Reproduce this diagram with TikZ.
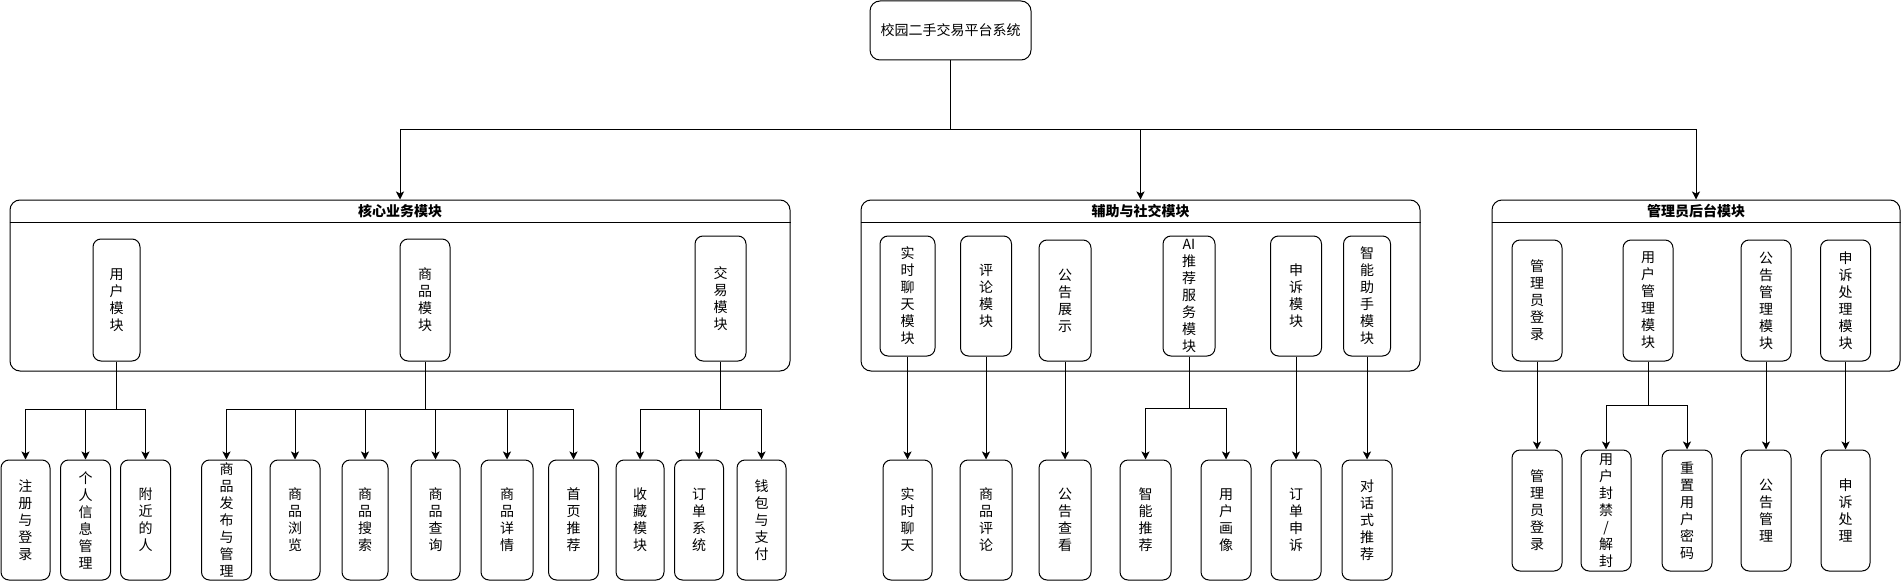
\documentclass[tikz,border=0pt]{standalone}
\usepackage{fontspec}
\newfontfamily\cjk{Noto Sans CJK SC}
\usetikzlibrary{arrows.meta}
\tikzset{
  box/.style={draw,rounded corners=6pt,inner sep=0pt,align=center,fill=white},
  grp/.style={draw,rounded corners=7.5pt,inner sep=0pt},
  hdr/.style={font=\cjk\bfseries\fontsize{10.5}{12.75}\selectfont,inner sep=0pt},
  arr/.style={-{Stealth[length=6pt,width=6pt,inset=1.5pt]}},
  leafh/.style={minimum height=90pt},
  modh/.style={minimum height=90pt}
}
\begin{document}
\begin{tikzpicture}[x=0.75pt,y=-0.75pt,line width=0.75pt,
  every node/.style={font=\cjk\fontsize{10.5}{12.75}\selectfont}]
\useasboundingbox (0,0) rectangle (1901,581);

% root
\node[box,minimum width=161*.75pt,minimum height=59*.75pt,rounded corners=7.5pt] (root) at (950.5,30.5) {校园二手交易平台系统};
\coordinate (trunk) at (950.5,130);

% groups
\node[grp,minimum width=780*.75pt,minimum height=171*.75pt] (g1) at (400,285.5) {};
\node[grp,minimum width=559*.75pt,minimum height=171*.75pt] (g2) at (1140.5,285.5) {};
\node[grp,minimum width=408*.75pt,minimum height=171*.75pt] (g3) at (1696,285.5) {};
\draw (g1.west |- 0,222) -- (g1.east |- 0,222);
\draw (g2.west |- 0,222) -- (g2.east |- 0,222);
\draw (g3.west |- 0,222) -- (g3.east |- 0,222);
\node[hdr] (g1t) at (400,211.5) {核心业务模块};
\node[hdr] (g2t) at (1140.5,211.5) {辅助与社交模块};
\node[hdr] (g3t) at (1696,211.5) {管理员后台模块};

\draw (root.south) -- (trunk);
\draw[arr] (trunk) -| (g1.north);
\draw[arr] (trunk) -| (g2.north);
\draw[arr] (trunk) -| (g3.north);

% group 1 modules
\node[box,minimum width=47*.75pt,minimum height=122*.75pt] (m1) at (116.5,300) {用\\户\\模\\块};
\node[box,minimum width=50*.75pt,minimum height=122*.75pt] (m2) at (425,300) {商\\品\\模\\块};
\node[box,minimum width=51*.75pt,minimum height=125*.75pt] (m3) at (720.5,298.5) {交\\易\\模\\块};

% group 1 leaves
\node[box,leafh,minimum width=49*.75pt] (l1) at (25.5,520) {注\\册\\与\\登\\录};
\node[box,leafh,minimum width=50*.75pt] (l2) at (85.5,520) {个\\人\\信\\息\\管\\理};
\node[box,leafh,minimum width=50*.75pt] (l3) at (145.5,520) {附\\近\\的\\人};
\node[box,leafh,minimum width=50*.75pt] (l4) at (226.5,520) {商\\品\\发\\布\\与\\管\\理};
\node[box,leafh,minimum width=50*.75pt] (l5) at (295,520) {商\\品\\浏\\览};
\node[box,leafh,minimum width=46*.75pt] (l6) at (365,520) {商\\品\\搜\\索};
\node[box,leafh,minimum width=49*.75pt] (l7) at (435.5,520) {商\\品\\查\\询};
\node[box,leafh,minimum width=52*.75pt] (l8) at (507,520) {商\\品\\详\\情};
\node[box,leafh,minimum width=50*.75pt] (l9) at (573.5,520) {首\\页\\推\\荐};
\node[box,leafh,minimum width=48*.75pt] (l10) at (640,520) {收\\藏\\模\\块};
\node[box,leafh,minimum width=49*.75pt] (l11) at (699,520) {订\\单\\系\\统};
\node[box,leafh,minimum width=49*.75pt] (l12) at (761.5,520) {钱\\包\\与\\支\\付};

\coordinate (j1) at (116.5,409);
\coordinate (j2) at (425,409);
\coordinate (j3) at (720.5,409);
\draw (m1.south) -- (j1);
\draw (m2.south) -- (j2);
\draw (m3.south) -- (j3);
\foreach \l in {l1,l2,l3} \draw[arr] (j1) -| (\l.north);
\foreach \l in {l4,l5,l6,l7,l8,l9} \draw[arr] (j2) -| (\l.north);
\foreach \l in {l10,l11,l12} \draw[arr] (j3) -| (\l.north);

% group 2 modules
\node[box,modh,minimum width=55*.75pt] (n1) at (907.5,296) {实\\时\\聊\\天\\模\\块};
\node[box,modh,minimum width=51*.75pt] (n2) at (986,296) {评\\论\\模\\块};
\node[box,minimum height=121*.75pt,minimum width=52*.75pt] (n3) at (1065,300.5) {公\\告\\展\\示};
\node[box,modh,minimum width=52*.75pt] (n4) at (1189,296) {AI\\推\\荐\\服\\务\\模\\块};
\node[box,modh,minimum width=51*.75pt] (n5) at (1296,296) {申\\诉\\模\\块};
\node[box,modh,minimum width=47*.75pt] (n6) at (1367,296) {智\\能\\助\\手\\模\\块};

% group 2 leaves
\node[box,leafh,minimum width=49*.75pt] (k1) at (907.5,520) {实\\时\\聊\\天};
\node[box,leafh,minimum width=52*.75pt] (k2) at (986,520) {商\\品\\评\\论};
\node[box,leafh,minimum width=52*.75pt] (k3) at (1065,520) {公\\告\\查\\看};
\node[box,leafh,minimum width=51*.75pt] (k4) at (1145.5,520) {智\\能\\推\\荐};
\node[box,leafh,minimum width=50*.75pt] (k5) at (1226,520) {用\\户\\画\\像};
\node[box,leafh,minimum width=50*.75pt] (k6) at (1296,520) {订\\单\\申\\诉};
\node[box,leafh,minimum width=50*.75pt] (k7) at (1367,520) {对\\话\\式\\推\\荐};

\draw[arr] (n1.south) -- (k1.north);
\draw[arr] (n2.south) -- (k2.north);
\draw[arr] (n3.south) -- (k3.north);
\draw[arr] (n5.south) -- (k6.north);
\draw[arr] (n6.south) -- (k7.north);
\coordinate (j4) at (1189,408);
\draw (n4.south) -- (j4);
\draw[arr] (j4) -| (k4.north);
\draw[arr] (j4) -| (k5.north);

% group 3 modules
\node[box,minimum height=121*.75pt,minimum width=50*.75pt] (p1) at (1537,300.5) {管\\理\\员\\登\\录};
\node[box,minimum height=121*.75pt,minimum width=50*.75pt] (p2) at (1648,300.5) {用\\户\\管\\理\\模\\块};
\node[box,minimum height=121*.75pt,minimum width=50*.75pt] (p3) at (1766,300.5) {公\\告\\管\\理\\模\\块};
\node[box,minimum height=121*.75pt,minimum width=50*.75pt] (p4) at (1845.5,300.5) {申\\诉\\处\\理\\模\\块};

% group 3 leaves
\node[box,minimum height=121*.75pt,minimum width=50*.75pt] (q1) at (1537,510.5) {管\\理\\员\\登\\录};
\node[box,minimum height=121*.75pt,minimum width=50*.75pt] (q2) at (1606,510.5) {用\\户\\封\\禁\\/\\解\\封};
\node[box,minimum height=121*.75pt,minimum width=50*.75pt] (q3) at (1687,510.5) {重\\置\\用\\户\\密\\码};
\node[box,minimum height=121*.75pt,minimum width=50*.75pt] (q4) at (1766,510.5) {公\\告\\管\\理};
\node[box,minimum height=121*.75pt,minimum width=49*.75pt] (q5) at (1845.5,510.5) {申\\诉\\处\\理};

\draw[arr] (p1.south) -- (q1.north);
\draw[arr] (p3.south) -- (q4.north);
\draw[arr] (p4.south) -- (q5.north);
\coordinate (j5) at (1648,405);
\draw (p2.south) -- (j5);
\draw[arr] (j5) -| (q2.north);
\draw[arr] (j5) -| (q3.north);
\end{tikzpicture}
\end{document}
